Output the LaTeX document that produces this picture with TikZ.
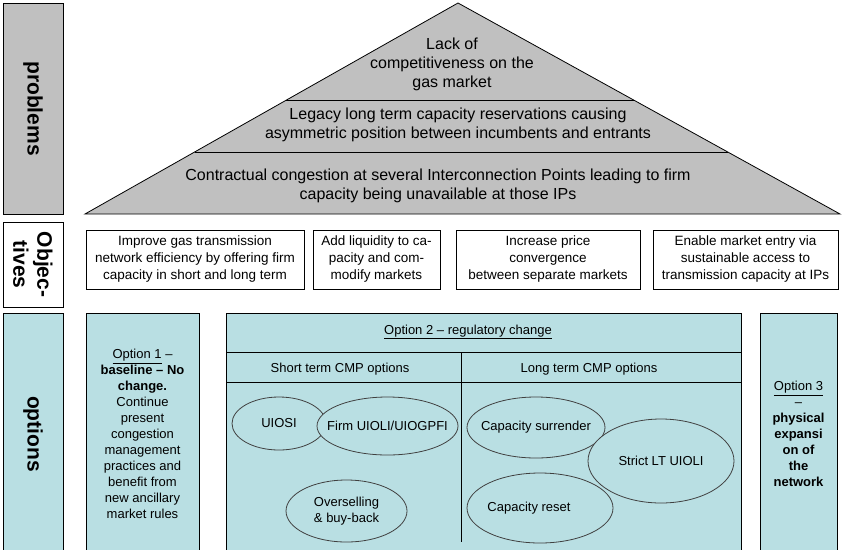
\documentclass[tikz,border=0pt]{standalone}
\usepackage{fontspec}
\setmainfont{Liberation Sans}
\usetikzlibrary{shapes.geometric,calc}

\definecolor{pyrgrey}{RGB}{192,192,192}
\definecolor{optblue}{RGB}{185,223,227}

\tikzset{
  rowlabel/.style={draw=black, line width=0.8pt, rotate=-90, inner sep=0pt,
    minimum height=60pt, align=center, font=\bfseries\fontsize{21}{24}\selectfont},
  objbox/.style={draw=black, line width=0.8pt, minimum height=59pt, inner sep=0pt,
    align=center, font=\fontsize{13.5}{17}\selectfont},
  optbox/.style={draw=black, line width=0.8pt, fill=optblue, inner sep=0pt,
    minimum height=242pt, align=center, font=\fontsize{13}{16}\selectfont},
  optoval/.style={ellipse, draw=black!75, line width=0.8pt, fill=optblue, inner sep=0pt,
    align=center, font=\fontsize{13}{16}\selectfont},
  pyrtext/.style={align=center, font=\fontsize{16}{19}\selectfont},
}
\newcommand{\ovaltext}[1]{\makebox[0pt]{#1}}

\begin{document}
\begin{tikzpicture}[x=1pt,y=-1pt]
  \useasboundingbox (0,0) rectangle (842,549);

  %% row labels
  \node [rowlabel, fill=pyrgrey, minimum width=211pt] (problems) at (33,108.5) {problems};
  \node [rowlabel, fill=white, minimum width=85pt] (objectives) at (33,264.5) {Objec-\\tives};
  \node [rowlabel, fill=optblue, minimum width=242pt] (options) at (33,434) {options};

  %% problem pyramid
  \coordinate (apex) at (458,3);
  \coordinate (bl) at (85,214);
  \coordinate (br) at (840,214);
  \draw [line width=0.8pt, fill=pyrgrey] (apex) -- (bl) -- (br) -- cycle;
  \draw [line width=0.8pt] ($(apex)!.46!(bl)$) -- ($(apex)!.46!(br)$);
  \draw [line width=0.8pt] ($(apex)!.706!(bl)$) -- ($(apex)!.706!(br)$);
  \node [pyrtext] (prob1) at (452,64) {Lack of\\competitiveness on the\\gas market};
  \node [pyrtext] (prob2) at (458,124.5) {Legacy long term capacity reservations causing\\asymmetric position between incumbents and entrants};
  \node [pyrtext] (prob3) at (438,186) {Contractual congestion at several Interconnection Points leading to firm\\capacity being unavailable at those IPs};

  %% objectives
  \node [objbox, minimum width=218pt] (obj1) at (195,259.5) {Improve gas transmission\\network efficiency by offering firm\\capacity in short and long term};
  \node [objbox, minimum width=127pt] (obj2) at (376.5,259.5) {Add liquidity to ca-\\pacity and com-\\modify markets};
  \node [objbox, minimum width=184pt] (obj3) at (548,259.5) {Increase price\\convergence\\between separate markets};
  \node [objbox, minimum width=185pt] (obj4) at (745.5,259.5) {Enable market entry via\\sustainable access to\\transmission capacity at IPs};

  %% options
  \node [optbox, minimum width=113pt] (opt1) at (142.5,434) {\underline{Option 1} –\\\textbf{baseline – No}\\\textbf{change.}\\Continue\\present\\congestion\\management\\practices and\\benefit from\\new ancillary\\market rules};
  \node [optbox, minimum width=515pt] (opt2) at (483.5,434) {};
  \node [optbox, minimum width=77pt] (opt3) at (798.5,434) {\underline{Option 3}\\–\\\textbf{physical}\\\textbf{expansi}\\\textbf{on of}\\\textbf{the}\\\textbf{network}};

  \draw [line width=0.8pt] (226,352) -- (741,352);
  \draw [line width=0.8pt] (226,382) -- (741,382);
  \draw [line width=0.8pt] (461,352) -- (461,542);
  \node [font=\fontsize{13}{16}\selectfont] (opt2head) at (468,332) {\underline{Option 2 – regulatory change}};
  \node [font=\fontsize{13}{16}\selectfont] (shortterm) at (340,369) {Short term CMP options};
  \node [font=\fontsize{13}{16}\selectfont] (longterm) at (589,369) {Long term CMP options};

  %% CMP ovals
  \node [optoval, minimum width=94pt, minimum height=53pt] (uiosi) at (279,423.5) {\ovaltext{UIOSI}};
  \node [optoval, minimum width=141pt, minimum height=58pt] (firm) at (387.5,426) {\ovaltext{Firm UIOLI/UIOGPFI}};
  \node [optoval, minimum width=121pt, minimum height=62pt] (oversell) at (346.5,511) {\ovaltext{Overselling}\\\ovaltext{\& buy-back}};
  \node [optoval, minimum width=138pt, minimum height=61pt] (surrender) at (536,427.5) {\ovaltext{Capacity surrender}};
  \node [optoval, minimum width=146pt, minimum height=84pt] (strict) at (661,461) {\ovaltext{Strict LT UIOLI}};
  \node [optoval, minimum width=146pt, minimum height=70pt] (reset) at (540,508) {\ovaltext{\hspace{-22pt}Capacity reset}};

\end{tikzpicture}
\end{document}
